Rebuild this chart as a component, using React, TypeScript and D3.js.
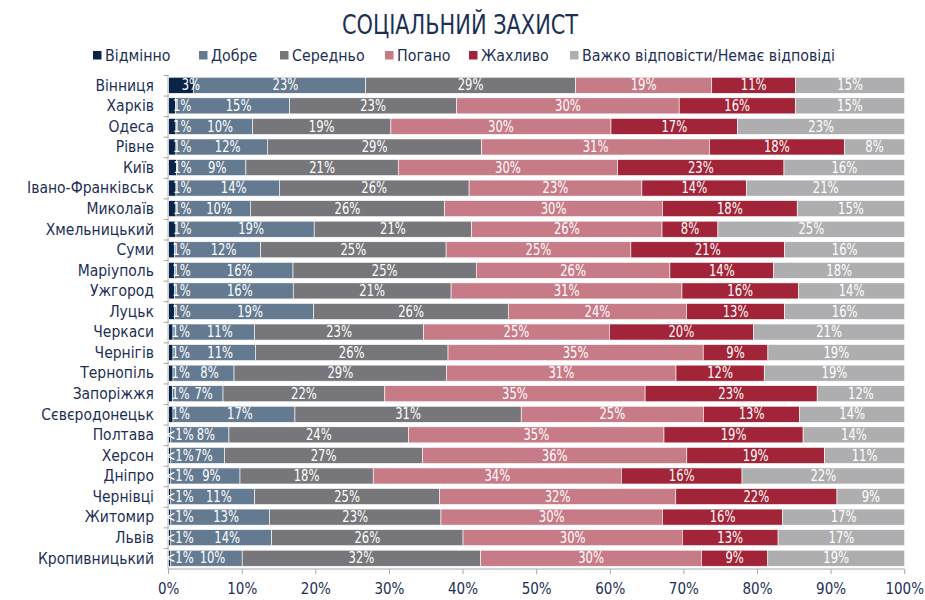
import React from "react";
import * as d3 from "d3";

const title = "СОЦІАЛЬНИЙ ЗАХИСТ";
const categories = [
  "Вінниця", "Харків", "Одеса", "Рівне", "Київ", "Івано-Франківськ", "Миколаїв",
  "Хмельницький", "Суми", "Маріуполь", "Ужгород", "Луцьк", "Черкаси", "Чернігів",
  "Тернопіль", "Запоріжжя", "Сєвєродонецьк", "Полтава", "Херсон", "Дніпро",
  "Чернівці", "Житомир", "Львів", "Кропивницький",
];
const seriesNames = ["Відмінно", "Добре", "Середньо", "Погано", "Жахливо", "Важко відповісти/Немає відповіді"];
const excellent = [3.35, 0.96, 1, 1, 1.1, 1, 1, 1, 0.8, 0.8, 0.8, 0.8, 0.6, 0.6, 0.6, 0.5, 0.6, 0.3, 0.3, 0.3, 0.3, 0.3, 0.3, 0.3];
const good = [23.4, 15.4, 10.4, 12.4, 9.4, 14.0, 10.1, 18.8, 11.7, 16.1, 16.1, 18.9, 11.1, 11.2, 8.3, 6.9, 16.6, 7.9, 7.3, 9.4, 11.4, 13.4, 13.7, 9.7];
const average = [28.5, 22.6, 18.8, 29.1, 20.7, 25.7, 26.4, 21.4, 25.2, 24.9, 21.4, 26.4, 23.0, 26.2, 28.9, 22.0, 30.8, 24.4, 26.9, 18.1, 25.1, 23.3, 26.0, 32.4];
const bad = [18.5, 30.1, 29.9, 30.9, 29.8, 23.4, 29.6, 25.9, 25.1, 26.3, 31.3, 24.2, 25.3, 34.7, 31.2, 35.4, 24.8, 34.7, 35.9, 33.7, 32.1, 30.1, 29.8, 30.0];
const terrible = [11.4, 15.7, 17.2, 18.3, 22.6, 14.2, 18.3, 7.6, 20.9, 14.1, 15.8, 13.3, 19.6, 8.8, 12.0, 23.4, 13.1, 18.9, 18.7, 16.4, 21.9, 16.3, 13.0, 9.0];
const noAnswer = [14.8, 14.8, 22.7, 8.2, 16.4, 21.4, 14.6, 25.4, 16.3, 17.8, 14.4, 16.3, 20.6, 18.6, 19.1, 11.9, 14.3, 13.8, 10.9, 22.1, 9.2, 16.6, 17.2, 18.6];
const xTicks = [0, 10, 20, 30, 40, 50, 60, 70, 80, 90, 100];

const seriesValues = [excellent, good, average, bad, terrible, noAnswer];
const colors = ["#0b2445", "#647a91", "#77777b", "#c77b87", "#a22438", "#aeaeb0"];
const labelDx = [10, 6, 0, 0, 0, 0];
const textColor = "#1c2f55";
const FONT = "'DejaVu Sans Condensed', 'DejaVu Sans', sans-serif";

const W = 925, H = 600;
const margin = { left: 168.6, right: 20.3, top: 75, bottom: 31.5 };

export default function App() {
  const rows = categories.map((c, i) => {
    const r: any = { cat: c };
    seriesNames.forEach((s, j) => (r[s] = seriesValues[j][i]));
    return r;
  });
  const stack = d3.stack<any>().keys(seriesNames).offset(d3.stackOffsetExpand);
  const layers = stack(rows);

  const x = d3.scaleLinear().domain([0, 1]).range([margin.left, W - margin.right]);
  const xPct = d3.scaleLinear().domain([0, 100]).range([margin.left, W - margin.right]);
  const y = d3.scaleBand().domain(categories).range([margin.top, H - margin.bottom]).paddingInner(0.22).paddingOuter(0.11);
  const step = y.step();
  const axisY = H - margin.bottom + 0.5;

  const fmt = (v: number) => (v < 0.5 ? "<1%" : `${Math.round(v)}%`);

  const legendX = [93, 199, 280, 385, 469, 570];

  return (
    <svg width={W} height={H} style={{ position: "absolute", left: 0, top: 0, background: "#fff" }}>
      <text transform="translate(460,34) scale(0.86,1)" textAnchor="middle" fontFamily={FONT} fontSize={27} fill={textColor}>{title}</text>
      {seriesNames.map((s, j) => (
        <g key={s}>
          <rect x={legendX[j]} y={51} width={8.5} height={8.5} fill={colors[j]} />
          <text x={legendX[j] + 12} y={60.5} fontFamily={FONT} fontSize={15.8} fill={textColor}>{s}</text>
        </g>
      ))}
      {/* y axis */}
      <line x1={margin.left - 0.5} x2={margin.left - 0.5} y1={margin.top} y2={axisY} stroke="#a6a6a6" strokeWidth={1} />
      {categories.map((c, i) => (
        <line key={c} x1={margin.left - 5} x2={margin.left - 0.5}
          y1={margin.top + i * step + 0.5} y2={margin.top + i * step + 0.5} stroke="#a6a6a6" />
      ))}
      {layers.map((layer, j) => (
        <g key={layer.key}>
          {layer.map((d, i) => (
            <rect key={i} x={x(d[0])} y={y(categories[i])!} width={x(d[1]) - x(d[0])} height={y.bandwidth()}
              fill={colors[j]} stroke="#ffffff" strokeWidth={0.6} />
          ))}
        </g>
      ))}
      {layers.map((layer, j) => (
        <g key={"l" + layer.key}>
          {layer.map((d, i) => {
            const cx = (x(d[0]) + x(d[1])) / 2 + labelDx[j];
            const cy = y(categories[i])! + y.bandwidth() / 2 + 5.2;
            return (
              <text key={i} transform={`translate(${cx},${cy}) scale(0.86,1)`}
                textAnchor="middle" fontFamily={FONT} fontSize={15} fill="#ffffff">
                {fmt(seriesValues[j][i])}
              </text>
            );
          })}
        </g>
      ))}
      {categories.map((c) => (
        <text key={c} x={154} y={y(c)! + y.bandwidth() / 2 + 5.3} textAnchor="end" fontFamily={FONT} fontSize={15.5} fill={textColor}>{c}</text>
      ))}
      {/* x axis */}
      <line x1={margin.left - 0.5} x2={W - margin.right} y1={axisY} y2={axisY} stroke="#a6a6a6" />
      {xTicks.map((t) => (
        <g key={t}>
          <line x1={xPct(t)} x2={xPct(t)} y1={axisY} y2={axisY + 5} stroke="#a6a6a6" />
          <text x={xPct(t)} y={594} textAnchor="middle" fontFamily={FONT} fontSize={15} fill={textColor}>{t}%</text>
        </g>
      ))}
    </svg>
  );
}
